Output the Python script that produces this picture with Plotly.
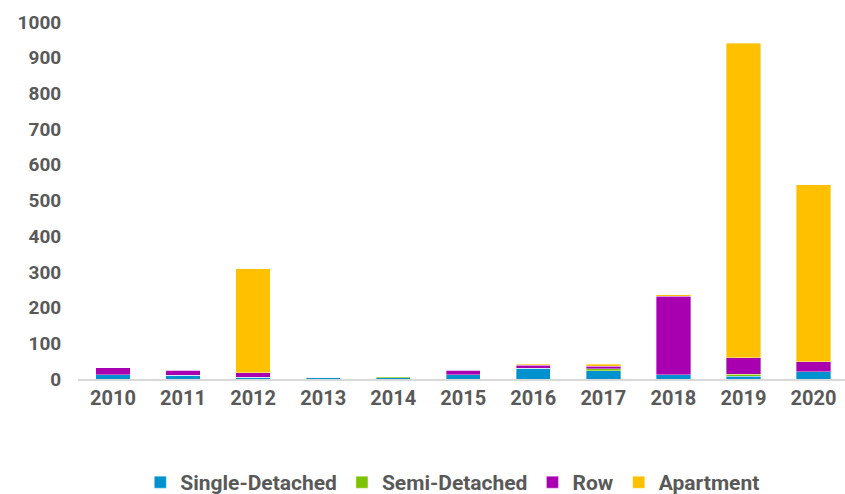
import plotly.graph_objects as go

years = ["2010", "2011", "2012", "2013", "2014", "2015", "2016", "2017", "2018", "2019", "2020"]
single_detached = [12, 10, 5, 5, 4, 12, 30, 23, 12, 8, 20]
semi_detached = [0, 0, 0, 0, 2, 0, 0, 6, 0, 5, 0]
row = [20, 14, 13, 0, 0, 12, 8, 7, 220, 47, 29]
apartment = [0, 0, 291, 0, 0, 0, 4, 5, 4, 880, 495]
y_ticks = list(range(0, 1001, 100))

series = [
    ("Single-Detached", single_detached, "#0091CF"),
    ("Semi-Detached", semi_detached, "#7DC400"),
    ("Row", row, "#A800B0"),
    ("Apartment", apartment, "#FFC000"),
]

FONT = "Roboto"
GREY = "#595959"

def f(size):
    return dict(family=FONT, size=size, color=GREY, weight="bold")

fig = go.Figure()
for name, vals, color in series:
    fig.add_trace(go.Bar(
        x=years, y=vals, name=name,
        marker=dict(color=color, line=dict(width=0.6, color="rgba(255,255,255,0.6)")),
    ))

fig.update_layout(
    barmode="stack",
    bargap=0.51,
    width=845, height=494,
    margin=dict(l=78, r=0, t=22, b=114.5, autoexpand=False),
    paper_bgcolor="white", plot_bgcolor="white",
    font=f(19),
    showlegend=True,
    legend=dict(
        orientation="h", x=0.488, xanchor="center", y=-0.29, yanchor="middle",
        font=f(21), traceorder="normal", itemwidth=30,
    ),
    xaxis=dict(
        type="category", range=[-0.5, 10.45], automargin=False,
        showline=True, linecolor="#D9D9D9", linewidth=2,
        showgrid=False, ticks="", tickfont=f(20),
    ),
    yaxis=dict(
        range=[0, 1000], tickvals=y_ticks, showgrid=False, zeroline=False, automargin=False,
        showline=False, ticks="outside", ticklen=12, tickcolor="rgba(0,0,0,0)",
        tickfont=f(19),
    ),
)

post = """
var s = document.createElement('style');
s.innerHTML = 'html, body { margin: 0 !important; padding: 0 !important; }';
document.head.appendChild(s);
"""
fig.write_html("out.html", post_script=post, config={"displayModeBar": False})
